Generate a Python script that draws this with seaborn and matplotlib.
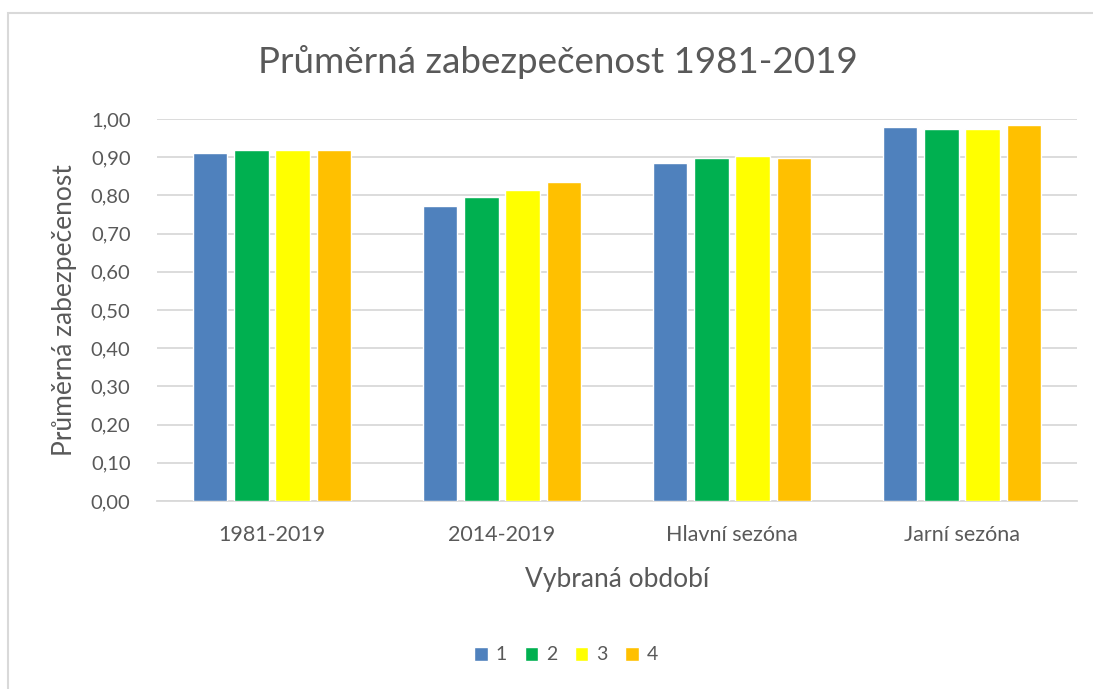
import matplotlib
matplotlib.use("Agg")
import matplotlib.pyplot as plt
import matplotlib.patches as patches
import pandas as pd
import seaborn as sns

periods = ["1981-2019", "2014-2019", "Hlavní sezóna", "Jarní sezóna"]
series = ["1", "2", "3", "4"]
values_1 = [0.91, 0.773, 0.886, 0.980]
values_2 = [0.92, 0.795, 0.897, 0.975]
values_3 = [0.92, 0.813, 0.903, 0.975]
values_4 = [0.92, 0.835, 0.897, 0.985]
colors = ["#4F81BD", "#00B050", "#FFFF00", "#FFC000"]
yticks = [0.0, 0.1, 0.2, 0.3, 0.4, 0.5, 0.6, 0.7, 0.8, 0.9, 1.0]

df = pd.DataFrame({
    "period": periods * 4,
    "series": [s for s in series for _ in periods],
    "value": values_1 + values_2 + values_3 + values_4,
})

sns.set_theme(style="white")
plt.rcParams["font.family"] = ["Lato", "DejaVu Sans"]
text_col = "#595959"
grid_col = "#D9D9D9"

fig = plt.figure(figsize=(10.93, 6.89), dpi=100)
ax = fig.add_axes([157 / 1093, 1 - 501 / 689, (1077 - 157) / 1093, (501 - 119) / 689])

sns.barplot(data=df, x="period", y="value", hue="series", hue_order=series,
            palette=colors, width=0.715, gap=0.17, saturation=1, ax=ax, legend=True,
            zorder=3)

ax.set_ylim(0, 1.0)
ax.set_yticks(yticks)
ax.set_yticklabels([f"{t:.2f}".replace(".", ",") for t in yticks])
ax.yaxis.grid(True, color=grid_col, linewidth=1.3, zorder=0)
ax.set_axisbelow(True)
for s in ["top", "right", "left"]:
    ax.spines[s].set_visible(False)
ax.spines["bottom"].set_color(grid_col)
ax.spines["bottom"].set_linewidth(1.3)
ax.tick_params(axis="y", length=0, pad=19, labelsize=14.5, labelcolor=text_col)
ax.tick_params(axis="x", length=0, pad=17, labelsize=15.5, labelcolor=text_col)

ax.set_xlabel("Vybraná období", fontsize=19, color=text_col, labelpad=16)
ax.set_ylabel("Průměrná zabezpečenost", fontsize=19, color=text_col, labelpad=10)
fig.text(558 / 1093, 1 - 62 / 689, "Průměrná zabezpečenost 1981-2019",
         ha="center", va="center", fontsize=26.5, color=text_col)

handles, labels = ax.get_legend_handles_labels()
ax.get_legend().remove()
fig.legend(handles, labels, loc="center", bbox_to_anchor=(566 / 1093, 1 - 655 / 689),
           ncol=4, frameon=False, fontsize=14, labelcolor=text_col,
           handlelength=0.7, handleheight=0.7, handletextpad=0.4, columnspacing=0.9)

# chart-area border (only top and left edges visible in the reference)
fig.patches.append(patches.Rectangle((8 / 1093, -0.1), 1.2, 1 - 13 / 689 + 0.1,
                                     transform=fig.transFigure, fill=False,
                                     edgecolor="#D9D9D9", linewidth=1.5))

fig.savefig("out.png", dpi=100)
